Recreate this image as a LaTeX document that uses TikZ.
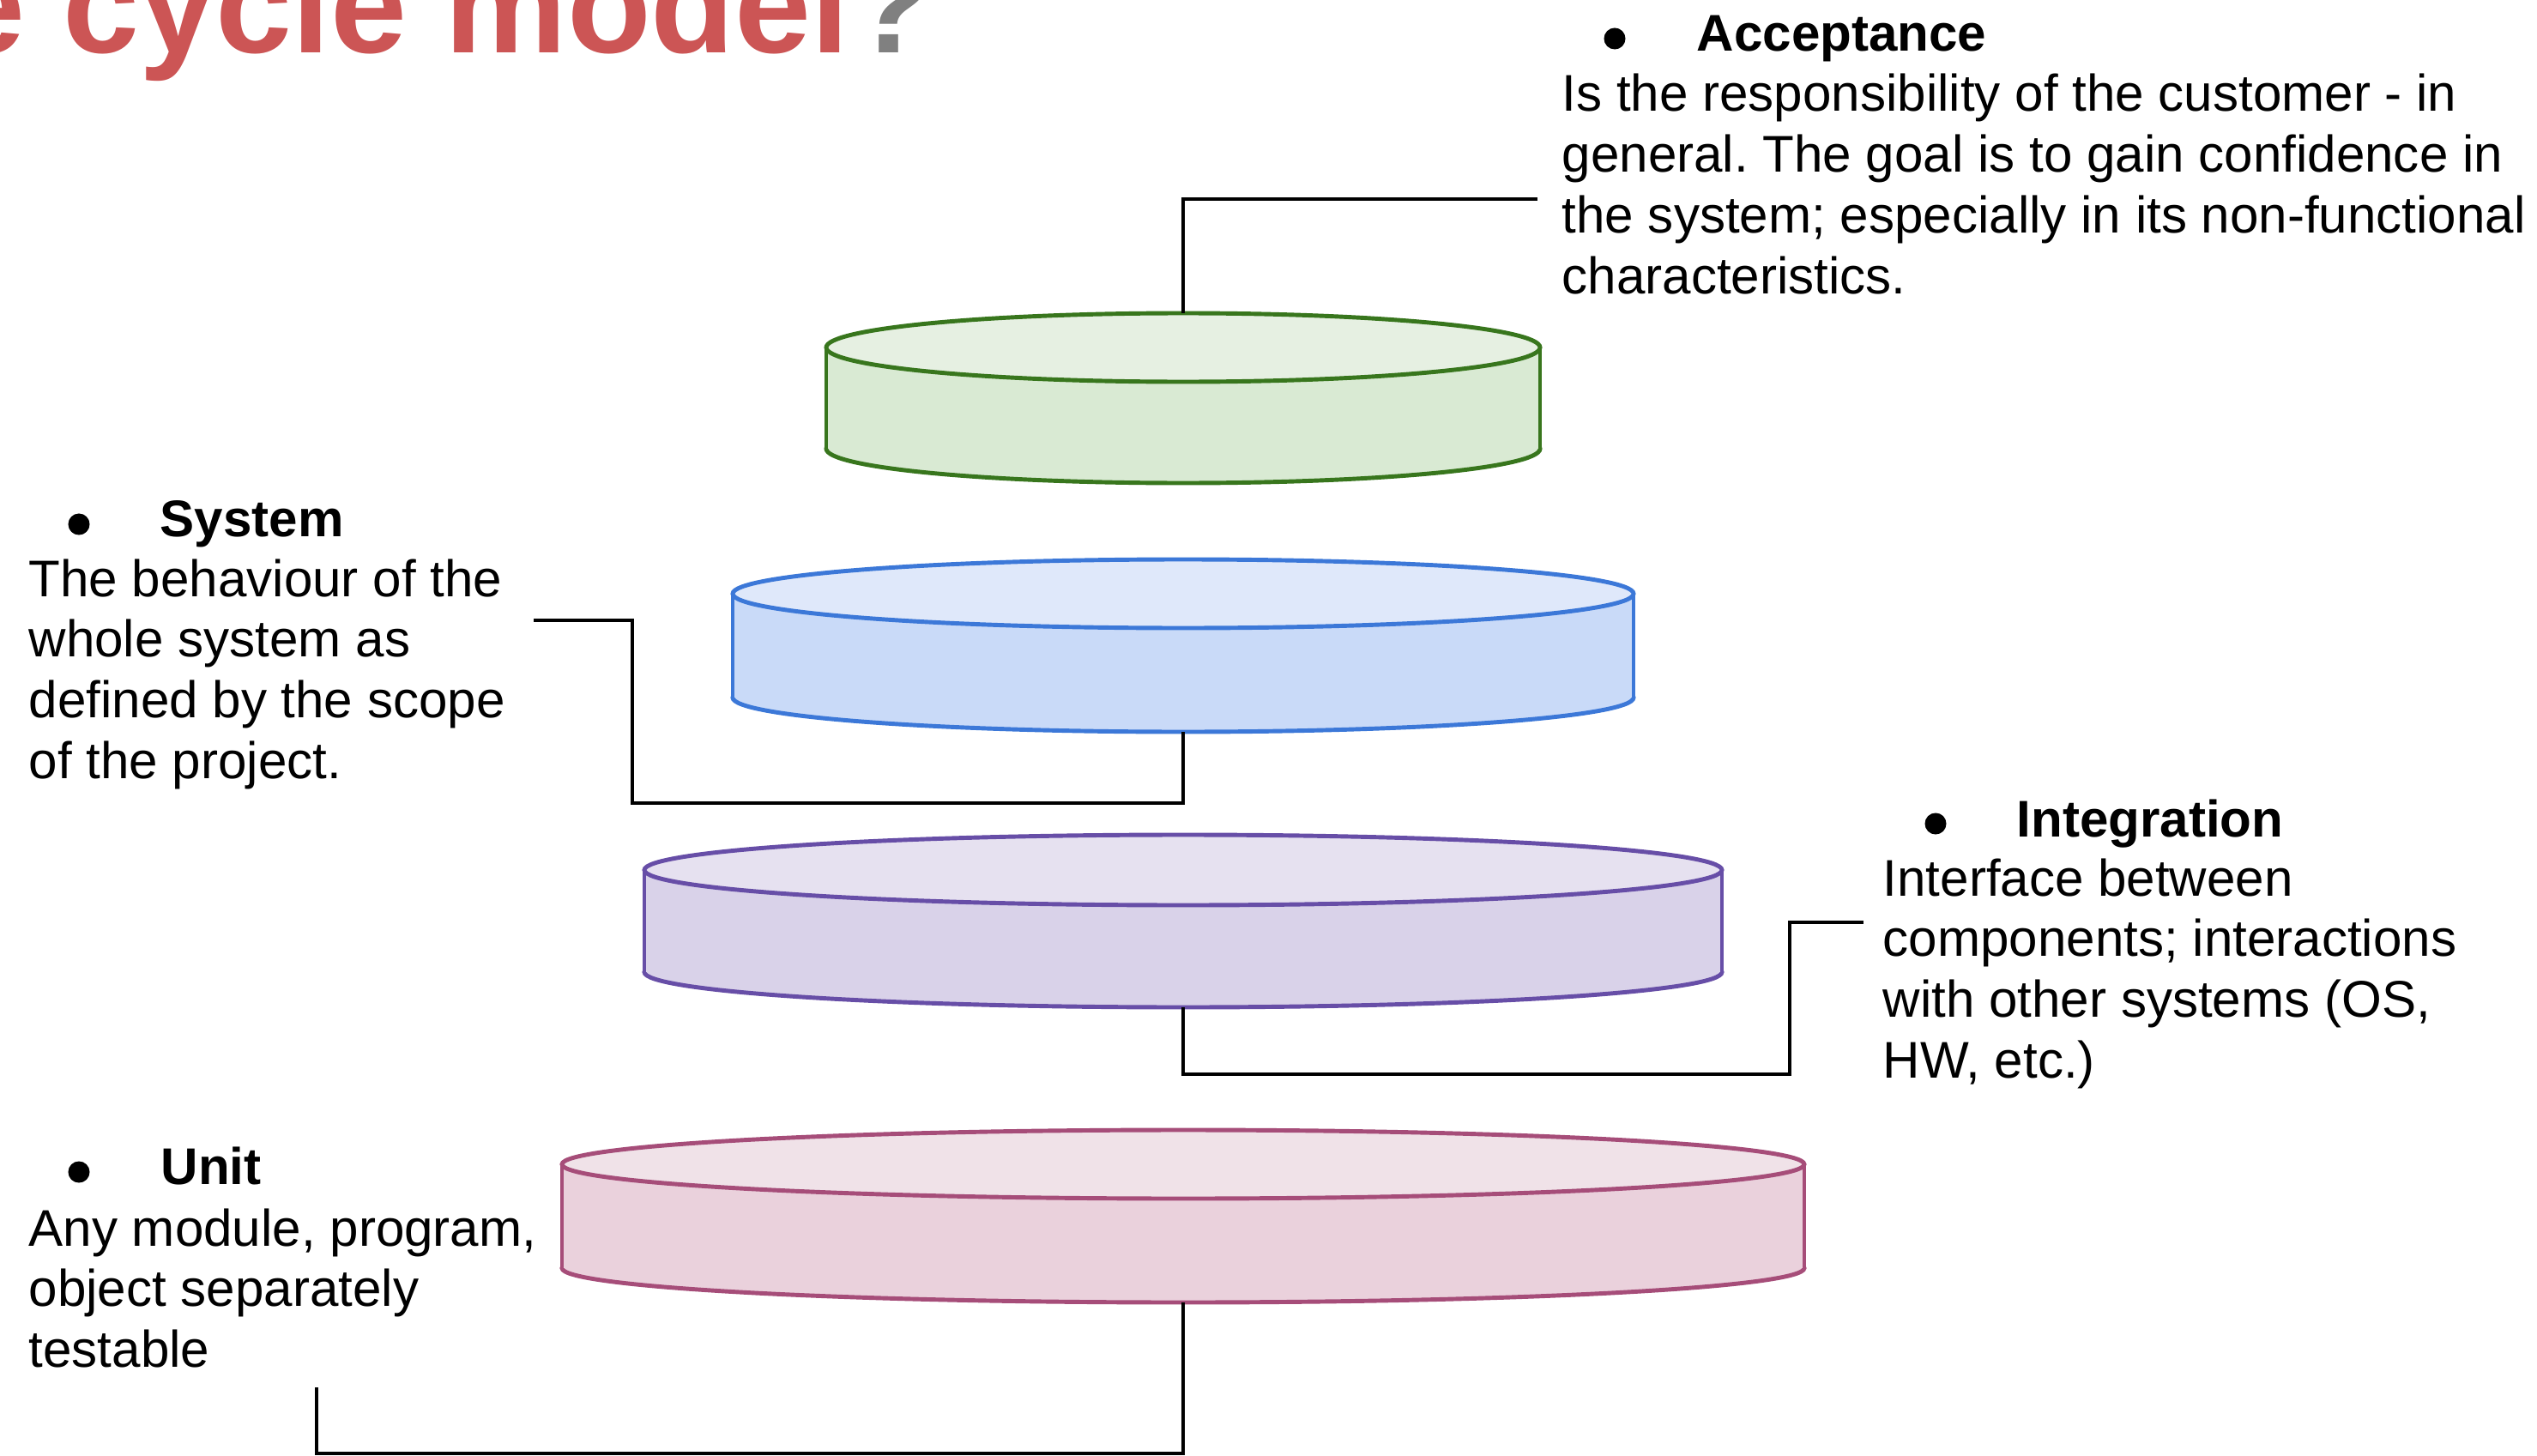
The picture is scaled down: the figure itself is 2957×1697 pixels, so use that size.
\documentclass[tikz,border=0pt]{standalone}
\usepackage{fontspec}
\setmainfont{Liberation Sans}
\definecolor{titlered}{HTML}{CC5555}
\definecolor{qgray}{HTML}{808080}
\definecolor{gStroke}{HTML}{38761D}
\definecolor{gSide}{HTML}{D9EAD3}
\definecolor{gTopF}{HTML}{E6F0E2}
\definecolor{bStroke}{HTML}{3C78D8}
\definecolor{bSide}{HTML}{C9DAF8}
\definecolor{bTopF}{HTML}{DFE8FA}
\definecolor{pStroke}{HTML}{674EA7}
\definecolor{pSide}{HTML}{D9D2E9}
\definecolor{pTopF}{HTML}{E6E1F0}
\definecolor{kStroke}{HTML}{A64D79}
\definecolor{kSide}{HTML}{EAD1DC}
\definecolor{kTopF}{HTML}{F0E2E8}
\newcommand\disk[8]{%
  \filldraw[fill=#7, draw=#6, line width=1.4pt] (#1,#3) ellipse [x radius=#4, y radius=#5];
  \fill[#7] (#1-#4,#2) rectangle (#1+#4,#3);
  \draw[#6, line width=1.1pt] (#1-#4,#2) -- (#1-#4,#3) (#1+#4,#2) -- (#1+#4,#3);
  \filldraw[fill=#8, draw=#6, line width=1.4pt] (#1,#2) ellipse [x radius=#4, y radius=#5];
}
\newcommand\blk[1]{\vtop{\halign{##\hfil\cr#1\crcr}}}
\frenchspacing
\begin{document}
\begin{tikzpicture}[x=0.01cm,y=-0.01cm,
  txt/.style={anchor=base west, inner sep=0pt, font=\fontsize{17.1}{20.1}\selectfont, text=black},
  head/.style={anchor=base west, inner sep=0pt, font=\fontsize{17.1}{20.1}\selectfont\bfseries, text=black},
  bul/.style={circle, fill=black, inner sep=0pt, minimum size=0.25cm},
  conn/.style={draw=black, line width=1.3pt, line join=miter}]
\useasboundingbox (0,0) rectangle (2957,1697);
\clip (0,0) rectangle (2957,1697);
\fill[white] (0,0) rectangle (2957,1697);

% title
\node[anchor=base west, inner sep=0pt, font=\fontsize{45.5}{50}\selectfont\bfseries] (title) at (-60,62)
  {\textcolor{titlered}{e cycle model}\textcolor{qgray}{?}};

% disks
\disk{1379}{405}{523}{416}{40}{gStroke}{gSide}{gTopF}
\disk{1379}{692}{813}{525}{40}{bStroke}{bSide}{bTopF}
\disk{1379}{1014}{1133}{628}{41}{pStroke}{pSide}{pTopF}
\disk{1379}{1357}{1478}{724}{40}{kStroke}{kSide}{kTopF}

\coordinate (gTop) at (1379,365);
\coordinate (bBot) at (1379,853);
\coordinate (pBot) at (1379,1174);
\coordinate (kBot) at (1379,1518);
\coordinate (accEnd) at (1792,232);
\coordinate (sysEnd) at (622,723);
\coordinate (intEnd) at (2172,1075);
\coordinate (unitEnd) at (369,1617);

% connectors
\draw[conn] (gTop) |- (accEnd);
\draw[conn] (sysEnd) -| (737,936) -| (bBot);
\draw[conn] (pBot) |- (2086,1252) |- (intEnd);
\draw[conn] (kBot) |- (369,1694) -- (unitEnd);

% Acceptance
\node[bul] (accB) at (1882,45) {};
\node[head] (accH) at (1977,60) {Acceptance};
\node[txt] (accT) at (1820,130) {\blk{Is the responsibility of the customer - in\cr
general. The goal is to gain confidence in\cr
the system; especially in its non-functional\cr
characteristics.}};

% System
\node[bul] (sysB) at (92,611) {};
\node[head] (sysH) at (186,625) {System};
\node[txt] (sysT) at (33,695) {\blk{The behaviour of the\cr
whole system as\cr
defined by the scope\cr
of the project.}};

% Integration
\node[bul] (intB) at (2256,960) {};
\node[head] (intH) at (2350,975) {Integration};
\node[txt] (intT) at (2194,1044) {\blk{Interface between\cr
components; interactions\cr
with other systems (OS,\cr
HW, etc.)}};

% Unit
\node[bul] (unitB) at (92,1366) {};
\node[head] (unitH) at (187,1380) {Unit};
\node[txt] (unitT) at (33,1452) {\blk{Any module, program,\cr
object separately\cr
testable}};
\end{tikzpicture}
\end{document}
